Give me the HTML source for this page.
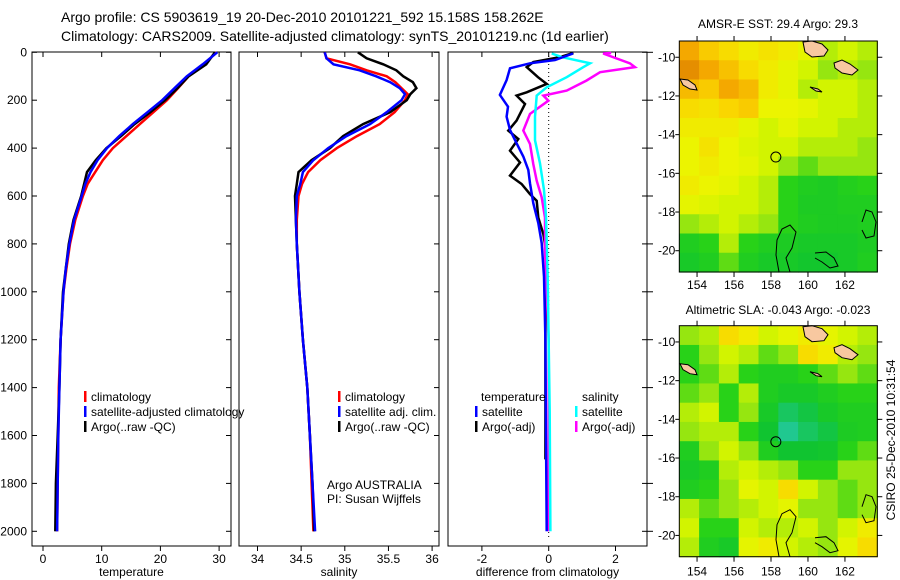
<!DOCTYPE html>
<html><head><meta charset="utf-8"><style>
html,body{margin:0;padding:0;background:#fff;}
svg{display:block;font-family:"Liberation Sans",sans-serif;}
</style></head><body>
<svg id="fig" width="900" height="580" viewBox="0 0 900 580" xmlns="http://www.w3.org/2000/svg">
<text x="61" y="22" font-size="14">Argo profile: CS 5903619_19 20-Dec-2010 20101221_592 15.158S 158.262E</text>
<text x="61" y="41" font-size="14">Climatology: CARS2009. Satellite-adjusted climatology: synTS_20101219.nc (1d earlier)</text>
<text x="778" y="28" font-size="12" text-anchor="middle">AMSR-E SST: 29.4 Argo: 29.3</text>
<text x="778" y="314" font-size="12" text-anchor="middle">Altimetric SLA: -0.043 Argo: -0.023</text>
<text transform="translate(895,440) rotate(-90)" font-size="12" text-anchor="middle">CSIRO 25-Dec-2010 10:31:54</text>
</svg>
<script>
// ---- profile data ----
const tDepths = [0,50,100,150,200,250,300,350,400,450,500,550,600,700,800,900,1000,1200,1400,1600,1800,2000];
const tClim   = [29.5,27.5,24.8,23.0,21.1,18.8,16.5,14.2,11.9,10.2,8.9,7.6,6.8,5.5,4.6,4.0,3.5,3.0,2.7,2.6,2.5,2.4];
const tSat    = [29.7,27.2,24.5,22.4,20.3,17.8,15.3,13.0,10.9,9.3,8.1,7.2,6.6,5.3,4.5,3.9,3.5,3.0,2.8,2.6,2.5,2.4];
const tArgo   = [29.3,27.8,24.8,22.9,20.8,18.3,15.6,13.3,10.8,9.0,7.5,7.0,6.5,5.2,4.4,3.9,3.4,3.0,2.8,2.5,2.2,2.1];
const sDepths = [0,25,50,75,100,125,150,175,200,250,300,350,400,450,500,550,600,700,800,1000,1200,1400,1600,1800,2000];
const sClim = [34.77,34.79,35.06,35.25,35.48,35.58,35.65,35.72,35.69,35.57,35.40,35.14,34.91,34.72,34.58,34.51,34.47,34.45,34.45,34.48,34.52,34.57,34.60,34.62,34.64];
const sSat  = [34.77,34.79,34.87,35.17,35.36,35.52,35.63,35.69,35.65,35.48,35.29,35.02,34.81,34.64,34.52,34.49,34.45,34.44,34.45,34.48,34.52,34.57,34.60,34.63,34.66];
const sArgo = [35.15,35.25,35.44,35.59,35.67,35.78,35.82,35.75,35.71,35.52,35.21,34.98,34.83,34.62,34.47,34.45,34.43,34.44,34.45,34.48,34.52,34.57,34.60,34.63,34.65];
const dtSatDepths = [5,32,46,67,116,178,227,269,324,380,435,491,547,630,713,797,936,1200,1600,2000];
const dtSat       = [0.73,0.19,-0.56,-1.16,-1.26,-1.46,-1.22,-1.26,-1.16,-0.96,-0.76,-0.61,-0.56,-0.46,-0.31,-0.21,-0.14,-0.1,-0.08,-0.06];
const dtArgoDepths = [3,20,41,62,104,132,167,181,216,285,327,362,411,460,515,550,592,620,690,760,829,1200,1700];
const dtArgo       = [0.74,0.34,-0.46,-0.66,-0.32,-0.06,-0.66,-0.96,-0.71,-0.96,-1.21,-0.91,-1.16,-0.86,-1.16,-0.81,-0.56,-0.36,-0.31,-0.16,-0.08,-0.1,-0.1];
const dsSatDepths = [5,20,46,62,104,146,181,269,367,464,575,686,936,1500,2000];
const dsSat       = [0.09,0.39,1.24,1.04,0.54,-0.06,-0.36,-0.41,-0.41,-0.26,-0.14,-0.08,-0.03,0.03,0.05];
const dsArgoDepths = [3,5,46,62,83,118,160,181,202,257,327,383,467,536,606,690,829,1200,2000];
const dsArgo       = [1.87,1.63,2.43,2.58,1.54,1.13,0.54,-0.16,-0.01,-0.56,-0.76,-0.56,-0.46,-0.36,-0.21,-0.11,-0.11,0.0,0.0];
const depthTicks = [0,200,400,600,800,1000,1200,1400,1600,1800,2000];
const tTicks = [0,10,20,30];
const sTicks = [34,34.5,35,35.5,36];
const sTickLabels = ["34","34.5","35","35.5","36"];
const dTicks = [-2,0,2];
// ---- map data (values 0..1 in colour scale) ----
const lonTicks = [154,156,158,160,162];
const latTicks = [-10,-12,-14,-16,-18,-20];
const latTickLabels = ["-10","-12","-14","-16","-18","-20"];
const sstGrid = [
[0.85,0.75,0.7,0.65,0.68,0.65,0.6,0.5,0.55,0.5],
[0.9,0.85,0.78,0.7,0.65,0.6,0.55,0.45,0.5,0.45],
[0.8,0.75,0.85,0.8,0.65,0.6,0.5,0.55,0.55,0.5],
[0.7,0.68,0.72,0.75,0.62,0.62,0.6,0.55,0.55,0.5],
[0.65,0.65,0.65,0.6,0.55,0.6,0.55,0.55,0.5,0.5],
[0.62,0.68,0.62,0.58,0.55,0.55,0.5,0.5,0.5,0.45],
[0.62,0.65,0.62,0.6,0.55,0.45,0.4,0.45,0.45,0.45],
[0.65,0.62,0.6,0.55,0.5,0.35,0.3,0.28,0.32,0.35],
[0.6,0.58,0.55,0.55,0.5,0.35,0.28,0.28,0.3,0.3],
[0.45,0.5,0.55,0.5,0.45,0.35,0.3,0.28,0.28,0.3],
[0.3,0.35,0.5,0.35,0.3,0.28,0.25,0.25,0.25,0.28],
[0.25,0.3,0.4,0.3,0.25,0.25,0.22,0.22,0.25,0.3]];
const slaGrid = [
[0.45,0.5,0.7,0.65,0.55,0.6,0.65,0.6,0.55,0.5],
[0.35,0.45,0.55,0.5,0.4,0.45,0.7,0.65,0.5,0.45],
[0.35,0.4,0.5,0.35,0.3,0.3,0.35,0.4,0.45,0.4],
[0.4,0.45,0.35,0.5,0.3,0.25,0.25,0.3,0.35,0.35],
[0.5,0.55,0.35,0.45,0.25,0.15,0.18,0.25,0.3,0.3],
[0.45,0.5,0.5,0.35,0.2,0.1,0.15,0.18,0.28,0.3],
[0.3,0.45,0.55,0.45,0.3,0.2,0.2,0.22,0.35,0.4],
[0.25,0.3,0.5,0.55,0.5,0.45,0.35,0.35,0.45,0.45],
[0.3,0.35,0.45,0.6,0.55,0.7,0.55,0.45,0.4,0.45],
[0.5,0.4,0.45,0.5,0.55,0.6,0.45,0.45,0.4,0.45],
[0.55,0.35,0.35,0.55,0.5,0.5,0.55,0.45,0.55,0.65],
[0.5,0.3,0.25,0.6,0.65,0.55,0.5,0.45,0.6,0.7]];
const floatLon = 158.262, floatLat = -15.158;

const NS="http://www.w3.org/2000/svg";
const svg=document.getElementById('fig');
function mk(tag,attrs,parent){const e=document.createElementNS(NS,tag);for(const k in attrs)e.setAttribute(k,attrs[k]);(parent||svg).appendChild(e);return e;}
const yD = d => 52.3 + d*0.2395;
const TOP=52, BOT=546;

function panel(name,x0,x1,xf,ticks,labels,xlabel){
  const g=mk('g',{});
  
  
  const fr=mk('rect',{x:x0,y:TOP,width:x1-x0,height:BOT-TOP,fill:'none',stroke:'#000','stroke-width':1},g);
  
  
  ticks.forEach((t,i)=>{const x=xf(t);
    mk('line',{x1:x,x2:x,y1:BOT,y2:BOT+5,stroke:'#000'},g);
    mk('line',{x1:x,x2:x,y1:TOP,y2:TOP+5,stroke:'#000'},g);
    const tx=mk('text',{x:x,y:BOT+17,'font-size':12,'text-anchor':'middle'},g);tx.textContent=labels[i];
    
    
  });
  depthTicks.forEach(d=>{mk('line',{x1:x1,x2:x1-5,y1:yD(d),y2:yD(d),stroke:'#000'},g);});
  const xl=mk('text',{x:(x0+x1)/2,y:BOT+30,'font-size':12,'text-anchor':'middle'},g);xl.textContent=xlabel;
  
  
  return g;
}
function line(g,xs,ds,xf,color,name){
  const pts=xs.map((v,i)=>xf(v).toFixed(1)+','+yD(ds[i]).toFixed(1)).join(' ');
  const p=mk('polyline',{points:pts,fill:'none',stroke:color,'stroke-width':2.5},g);
  
  
}
function legend(g,x,y,color,label,name){
  mk('rect',{x:x,y:y-10,width:2.5,height:11,fill:color},g);
  const t=mk('text',{x:x+7,y:y,'font-size':12},g);t.textContent=label;
  
  
}
// depth axis
depthTicks.forEach(d=>{mk('line',{x1:32,x2:37,y1:yD(d),y2:yD(d),stroke:'#000'});
  const t=mk('text',{x:27,y:yD(d)+4,'font-size':12,'text-anchor':'end'});t.textContent=d;
  
  });
// panel 1
const xT=t=>43+5.87*t;
const g1=panel('temperature-panel',32,231,xT,tTicks,tTicks.map(String),'temperature');
line(g1,tClim,tDepths,xT,'#f00','temp-climatology-line');
line(g1,tArgo,tDepths,xT,'#000','temp-argo-line');
line(g1,tSat,tDepths,xT,'#00f','temp-satellite-line');
legend(g1,84,401,'#f00','climatology','legend-climatology');
legend(g1,84,416,'#00f','satellite-adjusted climatology','legend-satellite');
legend(g1,84,431,'#000','Argo(..raw -QC)','legend-argo');
// panel 2
const xS=s=>257.5+(s-34)*87.3;
const g2=panel('salinity-panel',239,439,xS,sTicks,sTickLabels,'salinity');
line(g2,sClim,sDepths,xS,'#f00','sal-climatology-line');
line(g2,sArgo,sDepths,xS,'#000','sal-argo-line');
line(g2,sSat,sDepths,xS,'#00f','sal-satellite-line');
legend(g2,338,401,'#f00','climatology','legend-sal-climatology');
legend(g2,338,416,'#00f','satellite adj. clim.','legend-sal-satellite');
legend(g2,338,431,'#000','Argo(..raw -QC)','legend-sal-argo');
const a1=mk('text',{x:327,y:489,'font-size':12});a1.textContent='Argo AUSTRALIA';


const a2=mk('text',{x:327,y:503,'font-size':12});a2.textContent='PI: Susan Wijffels';


// panel 3
const xDf=v=>548.7+33.4*v;
const g3=panel('difference-panel',448,647,xDf,dTicks,dTicks.map(String),'difference from climatology');
depthTicks.forEach(d=>{mk('line',{x1:647,x2:653,y1:yD(d),y2:yD(d),stroke:'#000'},g3);});
const zl=mk('line',{x1:xDf(0),x2:xDf(0),y1:TOP,y2:yD(2030),stroke:'#000','stroke-dasharray':'1,3'},g3);


line(g3,dtArgo,dtArgoDepths,xDf,'#000','diff-temp-argo-line');
line(g3,dsArgo,dsArgoDepths,xDf,'#f0f','diff-sal-argo-line');
line(g3,dsSat,dsSatDepths,xDf,'#0ff','diff-sal-satellite-line');
line(g3,dtSat,dtSatDepths,xDf,'#00f','diff-temp-satellite-line');
const lt=mk('text',{x:481,y:401,'font-size':12},g3);lt.textContent='temperature';


const ls=mk('text',{x:582,y:401,'font-size':12},g3);ls.textContent='salinity';


legend(g3,475,416,'#00f','satellite','legend-diff-temp-satellite');
legend(g3,475,431,'#000','Argo(-adj)','legend-diff-temp-argo');
legend(g3,575,416,'#0ff','satellite','legend-diff-sal-satellite');
legend(g3,575,431,'#f0f','Argo(-adj)','legend-diff-sal-argo');

// ---- maps ----
const stops=[[0.1,[32,200,144]],[0.2,[16,196,48]],[0.35,[40,210,24]],[0.45,[150,230,16]],[0.55,[210,244,0]],[0.62,[236,244,0]],[0.72,[250,214,0]],[0.85,[244,168,0]],[0.95,[214,116,0]]];
function cmap(v){if(v<=stops[0][0])return 'rgb('+stops[0][1]+')';
  for(let i=1;i<stops.length;i++){if(v<=stops[i][0]){const a=stops[i-1],b=stops[i],f=(v-a[0])/(b[0]-a[0]);
    return 'rgb('+a[1].map((c,k)=>Math.round(c+(b[1][k]-c)*f)).join(',')+')';}}
  return 'rgb('+stops[stops.length-1][1]+')';}
const LON0=153.04, LON1=163.75, LAT0=-9.16, LAT1=-21.1;
function drawMap(name,grid,top,showXLabels){
  const L=679.3,R=877.3,B=top+231;
  const xL=lon=>L+(lon-LON0)/(LON1-LON0)*(R-L);
  const yL=lat=>top+(lat-LAT0)/(LAT1-LAT0)*(B-top);
  const g=mk('g',{});
  
  
  const rows=grid.length, cols=grid[0].length;
  const cw=(R-L)/cols, ch=(B-top)/rows;
  grid.forEach((row,r)=>row.forEach((v,c)=>{
    const cell=mk('rect',{x:(L+c*cw).toFixed(2),y:(top+r*ch).toFixed(2),width:(cw+0.6).toFixed(2),height:(ch+0.6).toFixed(2),fill:cmap(v)},g);
    
    
  }));
  const o=top-41;
  const isl=[
    'M803,42 L812,41 L822,44 L828,50 L824,56 L812,57 L805,52 Z',
    'M834,63 L842,60 L850,64 L858,70 L852,75 L842,73 L835,68 Z',
    'M680,79 L688,80 L695,85 L697,90 L690,89 L683,85 Z',
    'M810,87 L818,89 L822,92 L816,91 Z'];
  isl.forEach(d=>{const p=mk('path',{d:d,fill:'#f8c8a0',stroke:'#000','stroke-width':1,transform:'translate(0,'+o+')'},g);
    
    });
  const cont=[
    'M779,272 L776,255 L777,240 L782,229 L790,225 L796,232 L792,248 L786,258 L790,272',
    'M862,222 L866,210 L872,212 L876,222 L874,236 L866,238 L862,230',
    'M815,253 L826,252 L834,258 L838,266 L830,268 L822,262 L815,258'];
  cont.forEach(d=>{const p=mk('path',{d:d,fill:'none',stroke:'#000','stroke-width':1,transform:'translate(0,'+o+')'},g);
    
    });
  const fc=mk('circle',{cx:xL(floatLon),cy:yL(floatLat),r:5,fill:'none',stroke:'#000','stroke-width':1},g);
  
  
  mk('rect',{x:L,y:top,width:R-L,height:B-top,fill:'none',stroke:'#000'},g);
  lonTicks.forEach(lon=>{const x=xL(lon);
    mk('line',{x1:x,x2:x,y1:B,y2:B+5,stroke:'#000'},g);mk('line',{x1:x,x2:x,y1:top,y2:top-5,stroke:'#000'},g);
    const t=mk('text',{x:x,y:B+(showXLabels?19:17),'font-size':12,'text-anchor':'middle'},g);t.textContent=lon;
    
    
  });
  latTicks.forEach((lat,i)=>{const y=yL(lat);
    mk('line',{x1:L,x2:L-4,y1:y,y2:y,stroke:'#000'},g);mk('line',{x1:R,x2:R+5,y1:y,y2:y,stroke:'#000'},g);
    const t=mk('text',{x:L-4,y:y+4,'font-size':12,'text-anchor':'end'},g);t.textContent=latTickLabels[i];
    
    });
}
drawMap('sst-map',sstGrid,41,false);
drawMap('sla-map',slaGrid,325.7,true);
</script>
</body></html>
